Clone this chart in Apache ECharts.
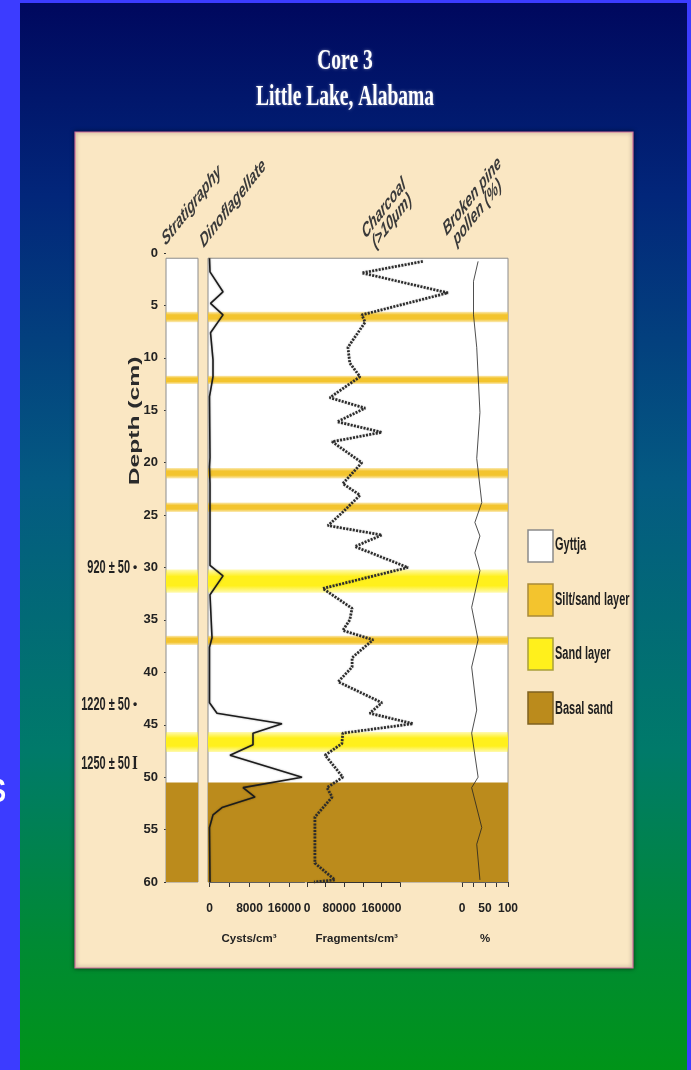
<!DOCTYPE html>
<html><head><meta charset="utf-8">
<style>html,body{margin:0;padding:0;background:#3c3cff;}#c{width:691px;height:1070px;}</style>
<script src="https://cdn.jsdelivr.net/npm/echarts@6/dist/echarts.min.js"></script>
</head><body><div id="c"></div>
<script>
// ---------- data ----------
const depthTicks = [0, 5, 10, 15, 20, 25, 30, 35, 40, 45, 50, 55, 60];

const dinoDepth  = [0.5, 1.8, 3.7, 4.8, 5.9, 7.6, 10.2, 11.8, 13.7, 19.5, 20.4, 22, 29.8, 30.8, 32.6, 36.7, 37.6, 42.9, 43.9, 44.9, 45.8, 46.9, 47.9, 50, 51, 51.9, 52.9, 53.6, 54.8, 60];
const dinoValues = [0, 100, 2700, 200, 2700, 200, 700, 700, 0, 100, 0, 100, 100, 2700, 100, 500, 0, 0, 1500, 14500, 8700, 8700, 4100, 18500, 6700, 9100, 2500, 700, 0, 100];

const charDepth  = [0.8, 1.9, 3.8, 5.9, 6.6, 9, 10.5, 11.8, 13.8, 14.8, 16.1, 17.1, 18, 20, 22, 23.1, 24.8, 26, 26.9, 28, 30, 32, 33.9, 35, 36, 36.9, 38.6, 39.5, 40.9, 42.9, 43.9, 44.9, 45.8, 46.8, 47.9, 50, 51, 51.9, 53.8, 58.2, 59.8, 60];
const charValues = [249000, 118000, 303000, 118000, 125000, 88000, 92000, 114000, 49000, 125000, 65000, 161000, 54000, 118000, 77000, 114000, 75000, 45000, 161000, 103000, 217000, 34000, 97000, 92000, 77000, 142000, 97000, 97000, 67000, 161000, 135000, 228000, 77000, 75000, 39000, 77000, 43000, 54000, 17000, 17000, 60000, 15000];

const pollenDepth  = [0.8, 2.7, 5.9, 9, 15.2, 19.6, 23.8, 25.7, 27, 28.6, 30.3, 33.8, 36.9, 39.5, 43.6, 45.8, 50, 51, 54.8, 56.4, 59.8];
const pollenValues = [35, 25, 25, 32, 39, 32, 43, 28, 39, 28, 39, 21, 35, 21, 32, 21, 35, 21, 43, 32, 39];

// stratigraphy layers [top, bottom] depth (cm)
const gyttjaLayers = [[0.5, 60]];
const siltLayers   = [[5.6, 6.6], [11.7, 12.5], [20.5, 21.5], [23.8, 24.7], [36.5, 37.4]];
const sandLayers   = [[30.2, 32.4], [45.7, 47.6]];
const basalLayers  = [[50.5, 60]];

const dinoTicks    = [0, 4000, 8000, 12000, 16000];
const dinoLabels   = [0, 8000, 16000];
const charTicks    = [0, 40000, 80000, 120000, 160000, 200000];
const charLabels   = [0, 80000, 160000];
const pollenTicks  = [0, 25, 50, 75, 100];
const pollenLabels = [0, 50, 100];

const legendNames = ['Gyttja', 'Silt/sand layer', 'Sand layer', 'Basal sand'];
const dateLabels  = ['920 ± 50', '1220 ± 50', '1250 ± 50'];
const dateMarks   = ['•', '•', 'I'];
const dateDepths  = [30.0, 43.1, 48.7];

// ---------- styling ----------
const SANS = '"Liberation Sans"';
const TXT = '#222';
const layerColors = ['#ffffff', '#f3c42e', '#fff01c', '#bb8b1c'];
const SY = 1.7;

function bandGrad(r, g, b, edge) {
  return new echarts.graphic.LinearGradient(0, 0, 0, 1, [
    {offset: 0, color: `rgba(${r},${g},${b},${edge})`},
    {offset: 0.3, color: `rgb(${r},${g},${b})`},
    {offset: 0.7, color: `rgb(${r},${g},${b})`},
    {offset: 1, color: `rgba(${r},${g},${b},${edge})`}
  ]);
}
const layerFills = ['#ffffff', bandGrad(243, 196, 46, 0.35), bandGrad(255, 240, 28, 0.35), '#bb8b1c'];

const layerData = [];
gyttjaLayers.forEach(l => layerData.push([l[0], l[1], 0]));
siltLayers.forEach(l => layerData.push([l[0], l[1], 1]));
sandLayers.forEach(l => layerData.push([l[0], l[1], 2]));
basalLayers.forEach(l => layerData.push([l[0], l[1], 3]));

function renderLayer(params, api) {
  const top = api.value(0), bot = api.value(1), t = api.value(2);
  const p0 = api.coord([0, top]);
  const p1 = api.coord([1, bot]);
  return {
    type: 'rect',
    shape: {x: p0[0], y: p0[1], width: p1[0] - p0[0], height: p1[1] - p0[1]},
    style: t === 0 ? {fill: layerFills[0], stroke: '#8c8c8c', lineWidth: 1} : {fill: layerFills[t]}
  };
}

const TOP = 253, H = 629;
const grid = [
  {left: 166, top: TOP, width: 32, height: H},       // stratigraphy
  {left: 208, top: TOP, width: 300, height: H},      // layer background
  {left: 209.5, top: TOP, width: 95, height: H},     // dinoflagellate
  {left: 307, top: TOP, width: 153.45, height: H},   // charcoal (0..330000)
  {left: 462, top: TOP, width: 46, height: H}        // pollen
];

const labelStyle = {fontFamily: SANS, fontWeight: 'bold', fontSize: 12, color: TXT};
const nameStyle = {fontFamily: SANS, fontWeight: 'bold', fontSize: 11.5, color: TXT};

function valueXAxis(gi, max, ticks, labels, name) {
  return {
    gridIndex: gi, type: 'value', min: 0, max: max, position: 'bottom',
    axisLine: {show: true, onZero: false, lineStyle: {color: '#333', width: 1}},
    axisTick: {show: true, customValues: ticks, length: 5, lineStyle: {color: '#333'}},
    axisLabel: Object.assign({customValues: labels, margin: 21, hideOverlap: false, showMinLabel: true, showMaxLabel: true, formatter: v => String(v)}, labelStyle),
    splitLine: {show: false},
    name: name, nameLocation: 'middle', nameGap: 51, nameTextStyle: Object.assign({}, nameStyle)
  };
}

const xAxis = [
  {gridIndex: 0, type: 'value', min: 0, max: 1, show: false},
  {gridIndex: 1, type: 'value', min: 0, max: 1, show: false},
  valueXAxis(2, 19000, dinoTicks, dinoLabels, 'Cysts/cm³'),
  valueXAxis(3, 330000, charTicks, charLabels, 'Fragments/cm³'),
  valueXAxis(4, 100, pollenTicks, pollenLabels, '%')
];
xAxis[2].axisLabel.formatter = v => (v === 16000 ? '{r|16000}' : String(v));
xAxis[2].axisLabel.rich = {r: Object.assign({padding: [0, 10, 0, 0]}, labelStyle)};
xAxis[2].nameTextStyle.padding = [0, 16, 0, 0];
xAxis[3].axisLine.show = false;           // axis line drawn only over 0..200000 below
xAxis[3].axisLabel.formatter = v => (v === 80000 ? '{r|80000}' : String(v));
xAxis[3].axisLabel.rich = {r: Object.assign({padding: [0, 10, 0, 0]}, labelStyle)};
xAxis[3].nameTextStyle.padding = [0, 54, 0, 0];

const yAxis = [0, 1, 2, 3, 4].map(i => ({
  gridIndex: i, type: 'value', min: 0, max: 60, interval: 5, inverse: true, show: i === 0,
  position: 'left', offset: 6,
  axisLine: {show: false},
  axisTick: {show: true, length: 2, lineStyle: {color: '#333'}},
  axisLabel: Object.assign({margin: 2}, labelStyle, {fontSize: 13}),
  splitLine: {show: false}
}));

const series = [
  {type: 'custom', xAxisIndex: 0, yAxisIndex: 0, renderItem: renderLayer, data: layerData, encode: {y: [0, 1]}, z: 1, silent: true},
  {type: 'custom', xAxisIndex: 1, yAxisIndex: 1, renderItem: renderLayer, data: layerData, encode: {y: [0, 1]}, z: 1, silent: true},
  {type: 'line', name: 'Dinoflagellate', xAxisIndex: 2, yAxisIndex: 2, symbol: 'none', clip: false, z: 5,
   data: dinoDepth.map((d, i) => [dinoValues[i], d]),
   lineStyle: {color: '#1c1c1c', width: 1.6, shadowColor: 'rgba(0,0,0,0.35)', shadowBlur: 2}},
  {type: 'line', name: 'Charcoal', xAxisIndex: 3, yAxisIndex: 3, symbol: 'none', clip: false, z: 5,
   data: charDepth.map((d, i) => [charValues[i], d]),
   lineStyle: {color: '#2c2c2c', width: 2.7, type: [2, 1.3], shadowColor: 'rgba(0,0,0,0.25)', shadowBlur: 1.5}},
  {type: 'line', name: 'Broken pine pollen', xAxisIndex: 4, yAxisIndex: 4, symbol: 'none', clip: false, z: 5,
   data: pollenDepth.map((d, i) => [pollenValues[i], d]),
   lineStyle: {color: '#222', width: 0.8}}
];

// ---------- decorations ----------
const bgGrad = new echarts.graphic.LinearGradient(0, 0, 0, 1, [
  {offset: 0, color: '#00085e'},
  {offset: 0.18, color: '#02267a'},
  {offset: 0.45, color: '#045a82'},
  {offset: 0.7, color: '#007a6a'},
  {offset: 0.88, color: '#008a34'},
  {offset: 1, color: '#009418'}
]);

const D = Math.PI / 180;
function header(id, text, x, y) {
  return {id: id, type: 'group', x: x, y: y, scaleY: SY, z: 50, children: [
    {type: 'text', rotation: 37 * D, style: {text: text, font: 'italic bold 12px ' + SANS, fill: '#3a3a3a', textAlign: 'left', textVerticalAlign: 'bottom'}}
  ]};
}

const elements = [
  {id: 'bg0', type: 'rect', z: -30, shape: {x: 0, y: 0, width: 691, height: 1070}, style: {fill: '#3c3cff'}},
  {id: 'bg1', type: 'rect', z: -29, shape: {x: 20, y: 3, width: 667, height: 1067}, style: {fill: bgGrad}},
  {id: 'sglyph', type: 'text', z: -28, x: 6, y: 793, scaleY: 1.3, style: {text: 'S', font: 'bold 26px ' + SANS, fill: '#ffffff', textAlign: 'right', textVerticalAlign: 'middle'}},
  {id: 'panel', type: 'rect', z: -20, shape: {x: 75, y: 132, width: 558, height: 836},
   style: {fill: '#fae7c3', stroke: '#cf6f9c', lineWidth: 1.2, shadowColor: 'rgba(0,0,0,0.55)', shadowBlur: 4}},
  {id: 't1', type: 'text', z: 50, x: 345, y: 61, scaleY: 1.55, style: {text: 'Core 3', font: 'bold 19.5px "Liberation Serif"', fill: '#ffffff', textAlign: 'center', textVerticalAlign: 'middle', textShadowColor: 'rgba(255,255,255,0.45)', textShadowBlur: 3}},
  {id: 't2', type: 'text', z: 50, x: 345, y: 97, scaleY: 1.55, style: {text: 'Little Lake, Alabama', font: 'bold 19.5px "Liberation Serif"', fill: '#ffffff', textAlign: 'center', textVerticalAlign: 'middle', textShadowColor: 'rgba(255,255,255,0.45)', textShadowBlur: 3}},
  header('h1', 'Stratigraphy', 167, 250),
  header('h2', 'Dinoflagellate', 205, 252),
  header('h3', 'Charcoal', 367, 243),
  header('h4', '(>10μm)', 377, 253),
  header('h5', 'Broken pine', 448, 240),
  header('h6', 'pollen (%)', 458, 250),
  {id: 'depthName', type: 'text', z: 50, x: 135, y: 421, rotation: 90 * D, scaleX: SY,
   style: {text: 'Depth (cm)', font: 'bold 14.5px ' + SANS, fill: '#2a2a2a', textAlign: 'center', textVerticalAlign: 'middle'}}
];
const legendBorders = ['#8a8a8a', '#a98a3a', '#a9a03a', '#7f6220'];
legendNames.forEach((n, i) => {
  elements.push({id: 'lgb' + i, type: 'rect', z: 50, shape: {x: 528, y: 530 + i * 54, width: 25, height: 32},
    style: {fill: layerColors[i], stroke: legendBorders[i], lineWidth: 1.5}});
  elements.push({id: 'lgt' + i, type: 'text', z: 50, x: 555, y: 545 + i * 54.5, scaleY: SY,
    style: {text: n, font: 'bold 11px ' + SANS, fill: '#1e1e1e', textAlign: 'left', textVerticalAlign: 'middle'}});
});

const chart = echarts.init(document.getElementById('c'), null, {renderer: 'canvas'});
chart.setOption({
  animation: false,
  grid: grid, xAxis: xAxis, yAxis: yAxis, series: series,
  graphic: {elements: elements}
});

// annotations tied to the library's scales
const extra = [];
dateDepths.forEach((d, i) => {
  const py = chart.convertToPixel({gridIndex: 0}, [0, d])[1];
  extra.push({id: 'dt' + i, type: 'text', z: 50, x: 130, y: py, scaleY: SY,
    style: {text: dateLabels[i], font: 'bold 11px ' + SANS, fill: TXT, textAlign: 'right', textVerticalAlign: 'middle'}});
  const isBar = dateMarks[i] === 'I';
  extra.push({id: 'dm' + i, type: 'text', z: 50, x: 135, y: py, scaleY: isBar ? 1.3 : 1,
    style: {text: dateMarks[i], font: isBar ? 'bold 15px "Liberation Serif"' : 'bold 12px ' + SANS, fill: TXT, textAlign: 'center', textVerticalAlign: 'middle'}});
});
const c0 = chart.convertToPixel({gridIndex: 3}, [charTicks[0], 60]);
const c1 = chart.convertToPixel({gridIndex: 3}, [charTicks[charTicks.length - 1], 60]);
extra.push({id: 'charAxis', type: 'line', z: 40, shape: {x1: c0[0], y1: Math.round(c0[1]) + 0.5, x2: c1[0], y2: Math.round(c1[1]) + 0.5}, style: {stroke: '#333', lineWidth: 1}});
chart.setOption({graphic: {elements: extra}});
</script>
</body></html>
